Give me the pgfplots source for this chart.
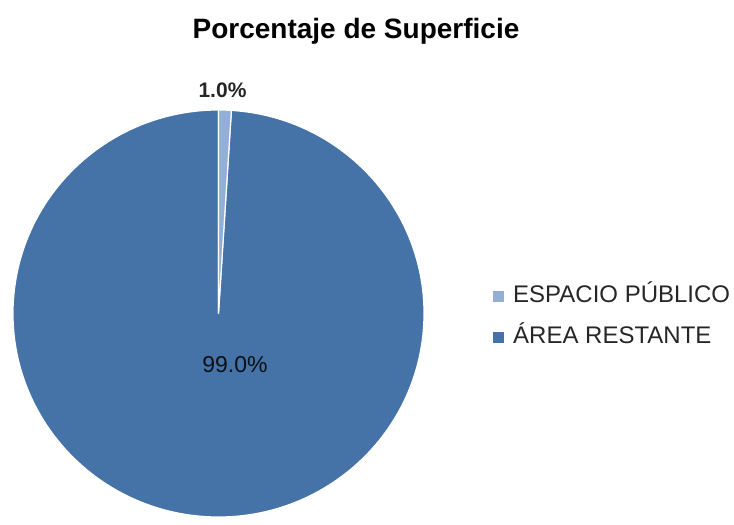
\documentclass[border=0pt]{standalone}
\usepackage{pgfplots}
\usepackage{pgfplotstable}
\pgfplotsset{compat=1.18}
\usepackage{fontspec}
\setmainfont{Liberation Sans}
\definecolor{cA}{HTML}{93AFD8}
\definecolor{cB}{HTML}{4572A7}
\definecolor{txt}{HTML}{262626}
\pgfplotstableread[col sep=comma]{
label,value
ESPACIO PÚBLICO,1.0
ÁREA RESTANTE,99.0
}\piedata
\pgfplotstablegetelem{0}{value}\of\piedata
\let\vA\pgfplotsretval
\pgfplotstablegetelem{1}{value}\of\piedata
\let\vB\pgfplotsretval
\pgfmathsetmacro\angA{90-3.6*\vA}
\pgfmathsetmacro\angB{\angA-3.6*\vB}
\pgfkeys{/pgf/number format/.cd,fixed,fixed zerofill,precision=1,assume math mode=true}
\begin{document}
\begin{tikzpicture}
\begin{axis}[
  x=1bp, y=1bp,
  xmin=0, xmax=734, ymin=0, ymax=518,
  hide axis, clip=false,
  legend image code/.code={\fill[#1,draw=none] (0bp,-5.5bp) rectangle (11bp,5.5bp);},
  legend style={draw=none, fill=none, at={(axis cs:490,201)}, anchor=west,
    font=\fontsize{24bp}{26bp}\selectfont\color{txt},
    row sep=18.5bp,
    nodes={inner sep=0bp, text height=17bp, text depth=5bp},
    /tikz/every odd column/.append style={column sep=9bp}},
  legend cell align=left,
]
\path (axis cs:0,0) rectangle (axis cs:734,518);
\addlegendimage{fill=cA,draw=none}
\addlegendentry{ESPACIO PÚBLICO}
\addlegendimage{fill=cB,draw=none}
\addlegendentry{ÁREA RESTANTE}
% pie slices from table values
\fill[cB, draw=white, line width=1.2bp] (axis cs:218.5,204.5) -- +(\angA:205.5bp and 203.5bp)
  arc[start angle=\angA, end angle=\angB, x radius=205.5bp, y radius=203.5bp] -- cycle;
\fill[cA, draw=white, line width=1.2bp] (axis cs:218.5,204.5) -- +(90:205.5bp and 203.5bp)
  arc[start angle=90, end angle=\angA, x radius=205.5bp, y radius=203.5bp] -- cycle;
% labels
\node[anchor=base, font=\fontsize{28bp}{30bp}\selectfont\bfseries, text=black]
  at (axis cs:356,479) {Porcentaje de Superficie};
\node[anchor=base, font=\fontsize{21bp}{23bp}\selectfont\bfseries, text=txt]
  at (axis cs:222.5,420) {\pgfmathprintnumber{\vA}\%};
\node[anchor=base, font=\fontsize{23bp}{25bp}\selectfont, text={black!85!cB}]
  at (axis cs:235,146) {\pgfmathprintnumber{\vB}\%};
\end{axis}
\end{tikzpicture}
\end{document}
